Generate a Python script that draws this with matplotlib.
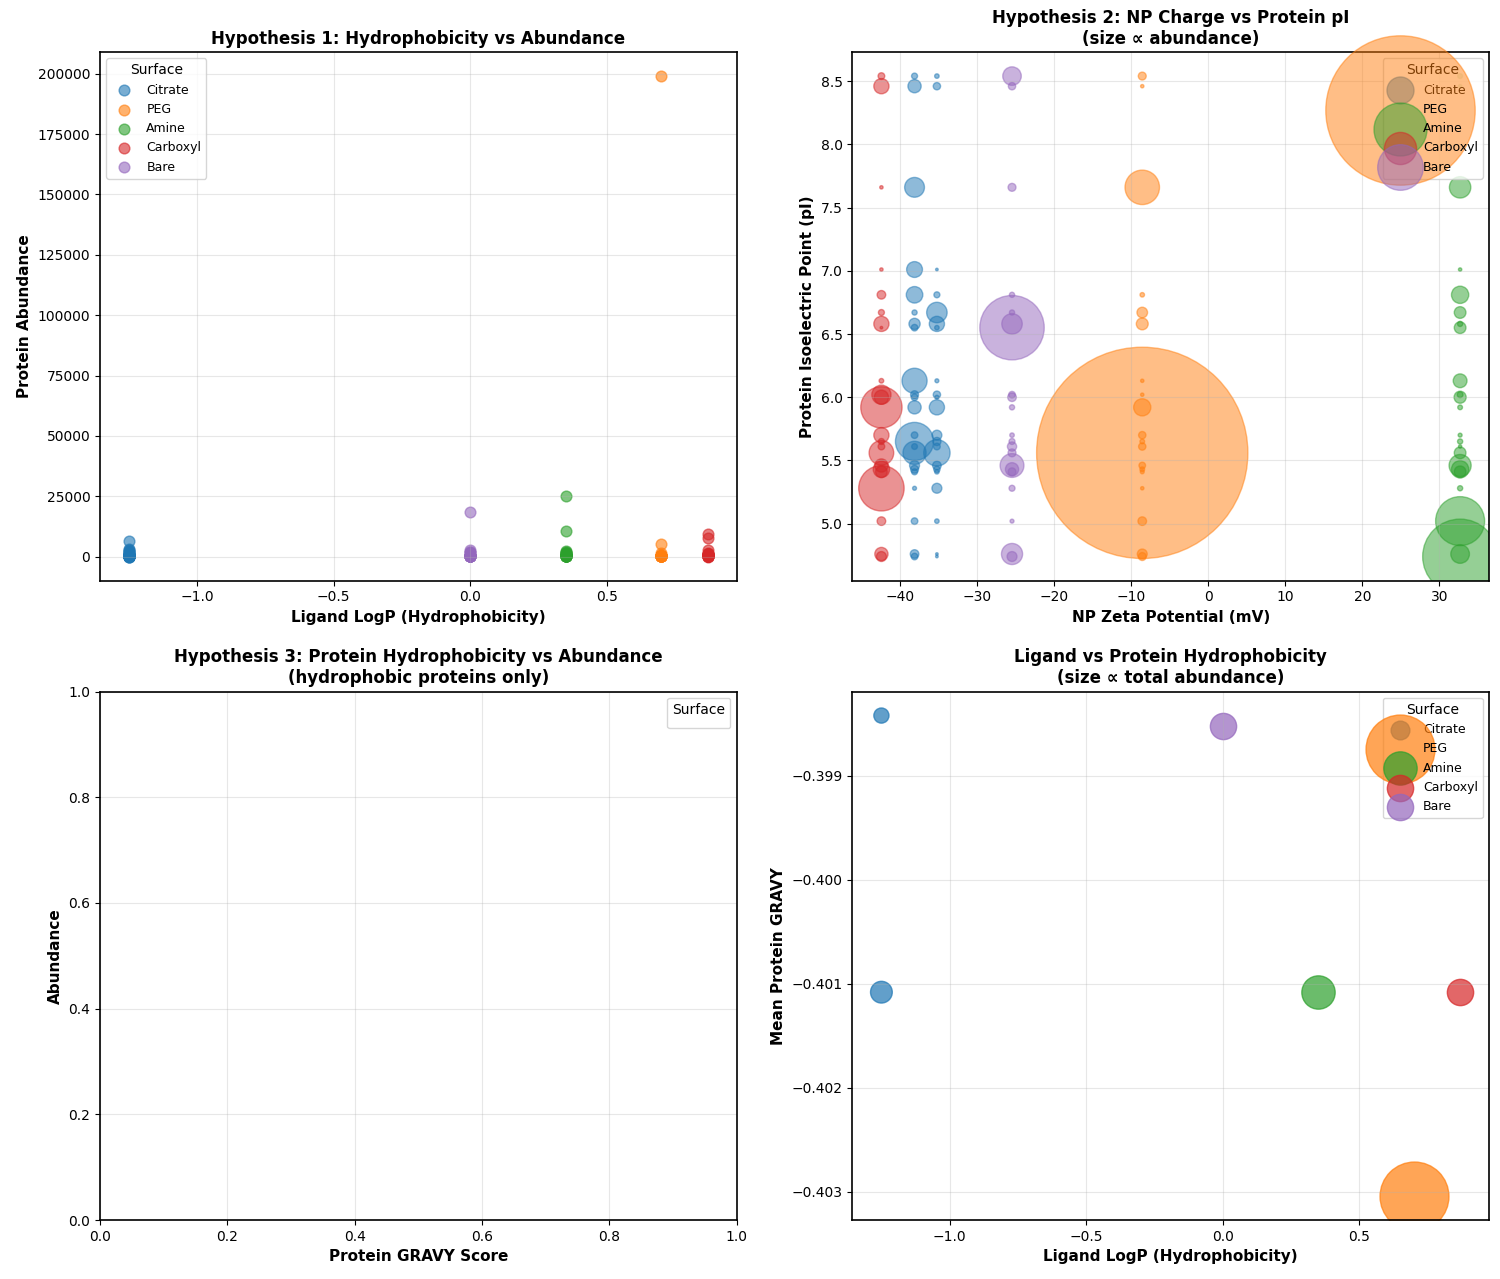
import matplotlib
matplotlib.use("Agg")
import matplotlib.pyplot as plt
import numpy as np

nan = np.nan
plt.rcParams['axes.linewidth'] = 1.2

# surfaces (legend order) and their colours
surfaces = ['Citrate', 'PEG', 'Amine', 'Carboxyl', 'Bare']
colors = ['#1f77b4', '#ff7f0e', '#2ca02c', '#d62728', '#9467bd']

# one entry per nanoparticle
np_surface = ['Citrate', 'Citrate', 'PEG', 'Amine', 'Carboxyl', 'Bare']
np_logp = [-1.25, -1.25, 0.70, 0.35, 0.87, 0.0]
np_zeta = [-38.1, -35.2, -8.55, 32.7, -42.4, -25.45]
np_mean_gravy = [-0.40108, -0.39842, -0.40304, -0.40108, -0.40108, -0.39852]

# protein isoelectric points (shared protein list)
protein_pi = [8.54, 8.46, 7.66, 7.01, 6.81, 6.67, 6.58, 6.55, 6.13, 6.02, 6.00, 5.92,
              5.70, 5.65, 5.61, 5.56, 5.46, 5.43, 5.41, 5.28, 5.02, 4.76, 4.74]

# abundance of each protein on each nanoparticle (nan = not detected)
abund_citrate1 = [160, 780, 1750, 1120, 1220, 120, 560, 195, 2810, 280, 200, 780,
                  195, 6500, 150, 2390, 440, 280, 160, 70, 195, 330, 195]
abund_citrate2 = [90, 240, nan, 30, 160, 1870, 1030, 90, 70, 240, 70, 1030,
                  440, 300, 200, 3100, 330, 180, 90, 440, 90, 30, 30]
abund_peg = [280, 50, 5300, nan, 90, 500, 630, nan, 50, 50, nan, 1320,
             240, 100, 240, 199000, 195, 100, 70, 50, 330, 440, 280]
abund_amine = [100, 50, 2040, 50, 1330, 610, 120, 610, 850, 150, 650, 100,
               70, 120, 50, 610, 2170, 1330, 610, 120, 10700, 1550, 25000]
abund_carboxyl = [200, 1030, 50, 50, 330, 160, 1030, 30, 95, 1640, 900, 7600,
                  1030, 160, 200, 2700, 780, 1200, 600, 9200, 330, 780, 440]
abund_bare = [1530, 240, 280, nan, 120, 120, 1870, 18500, nan, 195, 330, 120,
              90, 160, 380, 280, 2530, 780, 280, 160, 70, 1990, 440]

np_abund = [abund_citrate1, abund_citrate2, abund_peg, abund_amine, abund_carboxyl, abund_bare]


def surface_points(surf):
    logp, zeta, pi, ab = [], [], [], []
    for i in range(len(np_surface)):
        if np_surface[i] != surf:
            continue
        a = np.array(np_abund[i], dtype=float)
        ok = ~np.isnan(a)
        ab.extend(a[ok])
        pi.extend(np.array(protein_pi)[ok])
        logp.extend([np_logp[i]] * ok.sum())
        zeta.extend([np_zeta[i]] * ok.sum())
    return np.array(logp), np.array(zeta), np.array(pi), np.array(ab)


fig, axes = plt.subplots(2, 2, figsize=(15, 12.79), dpi=100)
fig.subplots_adjust(left=0.0667, right=0.9927, top=0.9593, bottom=0.0461,
                    wspace=0.182, hspace=0.21)

# Hypothesis 1
ax = axes[0, 0]
for surf, col in zip(surfaces, colors):
    logp, zeta, pi, ab = surface_points(surf)
    ax.scatter(logp, ab, s=60, alpha=0.6, color=col, label=surf)
ax.set_xlabel('Ligand LogP (Hydrophobicity)', fontsize=11, fontweight='bold')
ax.set_ylabel('Protein Abundance', fontsize=11, fontweight='bold')
ax.set_title('Hypothesis 1: Hydrophobicity vs Abundance', fontsize=12, fontweight='bold')
ax.legend(title='Surface', fontsize=9, loc='upper left')
ax.grid(True, alpha=0.3)

# Hypothesis 2
ax = axes[0, 1]
for surf, col in zip(surfaces, colors):
    logp, zeta, pi, ab = surface_points(surf)
    ax.scatter(zeta, pi, s=ab / 8.6, alpha=0.5, color=col, label=surf)
ax.set_xlabel('NP Zeta Potential (mV)', fontsize=11, fontweight='bold')
ax.set_ylabel('Protein Isoelectric Point (pI)', fontsize=11, fontweight='bold')
ax.set_title('Hypothesis 2: NP Charge vs Protein pI\n(size \u221d abundance)', fontsize=12, fontweight='bold')
ax.legend(title='Surface', fontsize=9, loc='upper right')
ax.grid(True, alpha=0.3)

# Hypothesis 3 - no hydrophobic proteins (GRAVY > 0) in the data
ax = axes[1, 0]
ax.set_xlabel('Protein GRAVY Score', fontsize=11, fontweight='bold')
ax.set_ylabel('Abundance', fontsize=11, fontweight='bold')
ax.set_title('Hypothesis 3: Protein Hydrophobicity vs Abundance\n(hydrophobic proteins only)',
             fontsize=12, fontweight='bold')
ax.legend(title='Surface', fontsize=9, loc='upper right')
ax.grid(True, alpha=0.3)

# Ligand vs protein hydrophobicity
ax = axes[1, 1]
totals = [np.nansum(a) for a in np_abund]
for surf, col in zip(surfaces, colors):
    idx = [i for i in range(len(np_surface)) if np_surface[i] == surf]
    ax.scatter([np_logp[i] for i in idx], [np_mean_gravy[i] for i in idx],
               s=[totals[i] / 85 for i in idx], alpha=0.7, color=col, label=surf)
ax.set_xlabel('Ligand LogP (Hydrophobicity)', fontsize=11, fontweight='bold')
ax.set_ylabel('Mean Protein GRAVY', fontsize=11, fontweight='bold')
ax.set_title('Ligand vs Protein Hydrophobicity\n(size \u221d total abundance)', fontsize=12, fontweight='bold')
ax.legend(title='Surface', fontsize=9, loc='upper right')
ax.grid(True, alpha=0.3)

plt.savefig('out.png', dpi=100)
